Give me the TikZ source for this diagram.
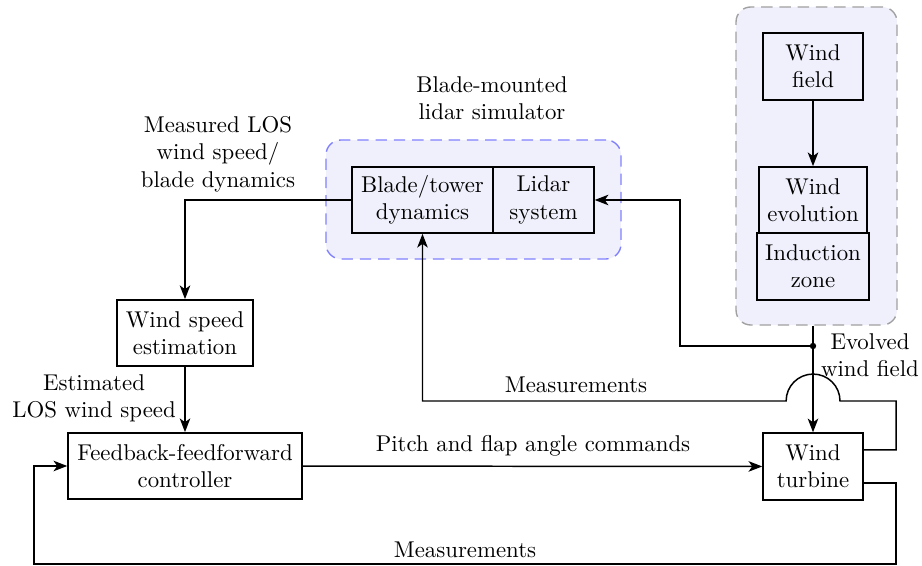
\documentclass[tikz,border=0pt]{standalone}
\usetikzlibrary{arrows.meta,calc}
\definecolor{grpfill}{RGB}{240,240,252}
\definecolor{grpblue}{RGB}{128,128,255}
\definecolor{grpgray}{RGB}{160,160,160}
\begin{document}
\begin{tikzpicture}[x=0.438pt,y=-0.438pt,
  box/.style={draw,line width=0.65pt,align=center,inner sep=1pt,minimum height=29pt},
  grp/.style={rounded corners=6.5pt,fill=grpfill,line width=0.6pt,dash pattern=on 5pt off 3pt,inner sep=0pt},
  arr/.style={line width=0.65pt,-{Stealth[length=6pt,width=4.6pt,inset=1.6pt]}},
  ln/.style={line width=0.65pt},
  lbl/.style={align=center,inner sep=0pt}]
\useasboundingbox (0,0) rectangle (922,566);
% groups
\node[grp,draw=grpgray,minimum width=70.5pt,minimum height=139.3pt] (envgrp) at (816.5,166) {};
\node[grp,draw=grpblue,minimum width=129.2pt,minimum height=52.1pt] (lidgrp) at (473.5,199.5) {};
% boxes
\node[box,minimum width=43.8pt,minimum height=29.3pt] (wf) at (813,66.5) {Wind\\field};
\node[box,minimum width=47.3pt] (we) at (813,200) {Wind\\evolution};
\node[box,minimum width=49.1pt,minimum height=29.3pt] (iz) at (813,266.5) {Induction\\zone};
\node[box,minimum width=61.8pt] (bt) at (422.5,200) {Blade/tower\\dynamics};
\node[box,minimum width=44.2pt] (ls) at (543.5,200) {Lidar\\system};
\node[box,minimum width=59.6pt] (wse) at (185,333) {Wind speed\\estimation};
\node[box,minimum width=102.5pt] (ctrl) at (185,466) {Feedback-feedforward\\controller};
\node[box,minimum width=43.8pt,minimum height=29.3pt] (wt) at (813,466.5) {Wind\\turbine};
% coordinates
\coordinate (dot) at (813,346);
\coordinate (lx) at (680,346);
\coordinate (jr) at (840,401);
\coordinate (mr) at (896,401);
\coordinate (br) at (896,564);
\coordinate (bl) at (34,564);
% connectors
\draw[arr] (wf) -- (we);
\draw[ln] (envgrp.south -| dot) -- (dot);
\draw[arr] (dot) -- (wt.north);
\fill (dot) circle (1.4pt);
\draw[arr] (dot) -- (lx) |- (ls.east);
\draw[arr] (bt.west) -| (wse.north);
\draw[arr] (wse) -- (ctrl);
\draw[arr] (ctrl) -- (wt);
\draw[arr] ([yshift=7.3pt]wt.east) -| (mr) -- (jr) arc[start angle=0,end angle=180,radius=11.8pt] -| (bt.south);
\draw[arr] ([yshift=-7.3pt]wt.east) -| (br) -- (bl) |- (ctrl.west);
% labels
\node[lbl] (l1) at (492,98) {Blade-mounted\\lidar simulator};
\node[lbl] (l2) at (218,154) {Measured LOS\\wind speed/\\blade dynamics};
\node[lbl] (l3) at (94,398) {Estimated\\LOS wind speed};
\node[lbl] (l4) at (870,355) {Evolved\\wind field};
\node[lbl] (l5) at (576,385) {Measurements};
\node[lbl] (l6) at (465,550) {Measurements};
\node[lbl] (l7) at (533,446) {Pitch and flap angle commands};
\end{tikzpicture}
\end{document}
